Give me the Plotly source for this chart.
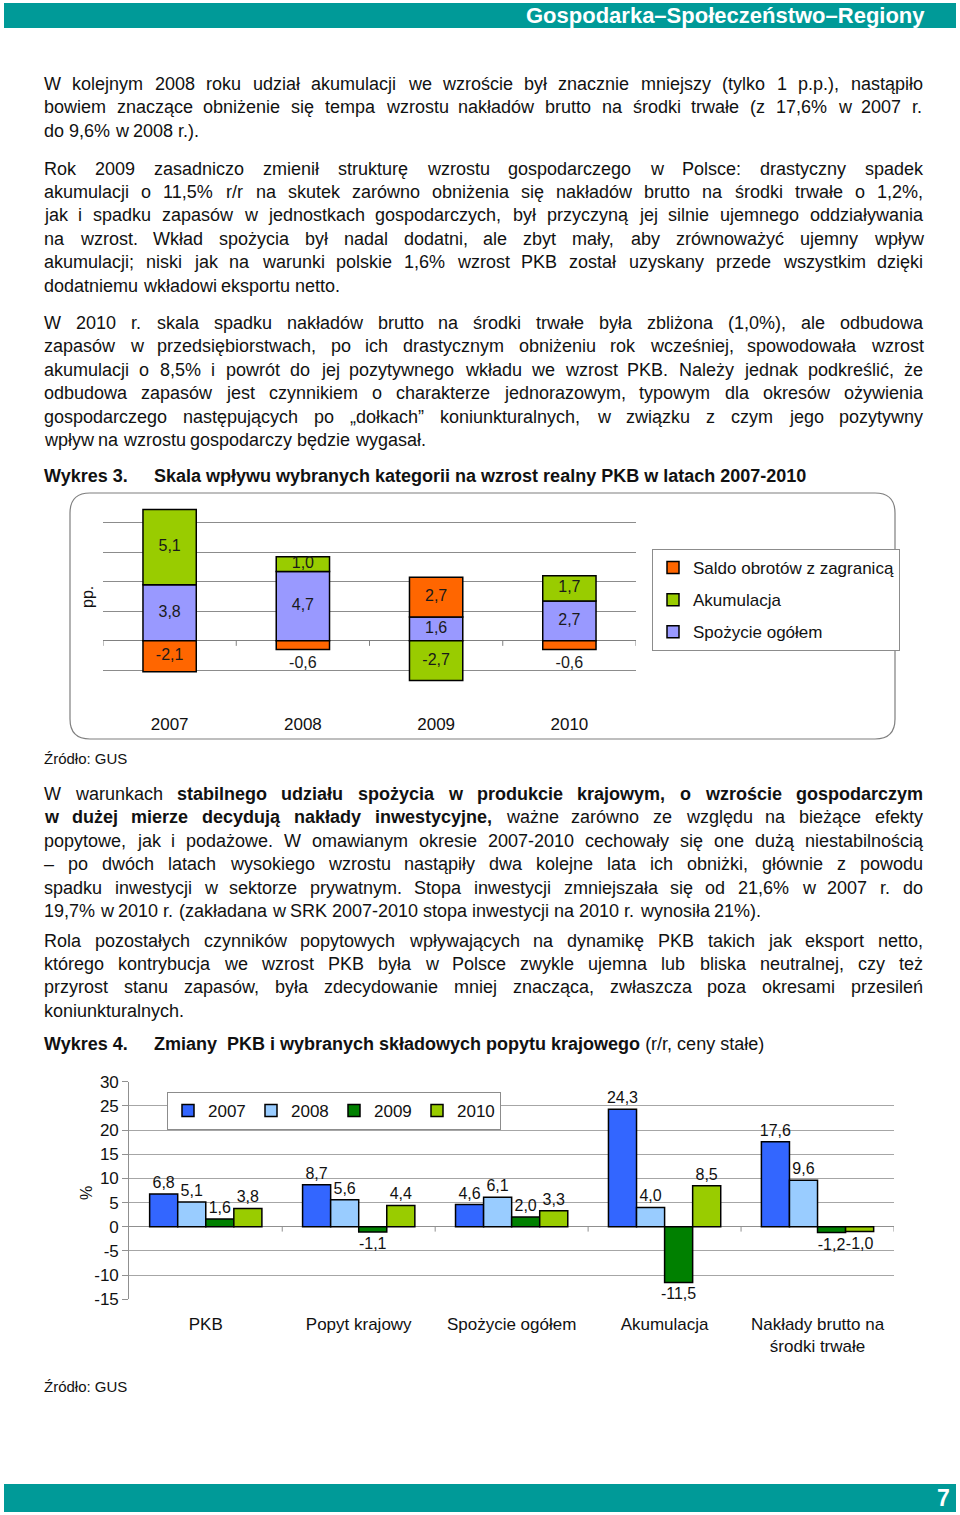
import re
import plotly.graph_objects as go

W, H = 960, 1515


def px(x):
    return x / W


def py(y):
    return 1 - y / H


FONT = "Liberation Sans, Arial, sans-serif"

# ---------------- Chart 3 data ----------------
years3 = ["2007", "2008", "2009", "2010"]
spozycie3 = [3.8, 4.7, 1.6, 2.7]
akumulacja3 = [5.1, 1.0, -2.7, 1.7]
saldo3 = [-2.1, -0.6, 2.7, -0.6]
names3 = ["Spożycie ogółem", "Akumulacja", "Saldo obrotów z zagranicą"]
colors3 = ["#9999FF", "#99CC00", "#FF6600"]
legend_rank3 = [3, 2, 1]

# ---------------- Chart 4 data ----------------
categories4 = ["PKB", "Popyt krajowy", "Spożycie ogółem", "Akumulacja",
               "Nakłady brutto na<br>środki trwałe"]
years4 = ["2007", "2008", "2009", "2010"]
v2007 = [6.8, 8.7, 4.6, 24.3, 17.6]
v2008 = [5.1, 5.6, 6.1, 4.0, 9.6]
v2009 = [1.6, -1.1, 2.0, -11.5, -1.2]
v2010 = [3.8, 4.4, 3.3, 8.5, -1.0]
colors4 = ["#3366FF", "#99CCFF", "#008000", "#99CC00"]
yticks4 = [30, 25, 20, 15, 10, 5, 0, -5, -10, -15]

# ---------------- Text ----------------
para1 = [
    "W kolejnym 2008 roku udział akumulacji we wzroście był znacznie mniejszy (tylko 1 p.p.), nastąpiło",
    "bowiem znaczące obniżenie się tempa wzrostu nakładów brutto na środki trwałe (z 17,6% w 2007 r.",
    "do 9,6% w 2008 r.).",
]
para2 = [
    "Rok 2009 zasadniczo zmienił strukturę wzrostu gospodarczego w Polsce: drastyczny spadek",
    "akumulacji o 11,5% r/r na skutek zarówno obniżenia się nakładów brutto na środki trwałe o 1,2%,",
    "jak i spadku zapasów w jednostkach gospodarczych, był przyczyną jej silnie ujemnego oddziaływania",
    "na wzrost. Wkład spożycia był nadal dodatni, ale zbyt mały, aby zrównoważyć ujemny wpływ",
    "akumulacji; niski jak na warunki polskie 1,6% wzrost PKB został uzyskany przede wszystkim dzięki",
    "dodatniemu wkładowi eksportu netto.",
]
para3 = [
    "W 2010 r. skala spadku nakładów brutto na środki trwałe była zbliżona (1,0%), ale odbudowa",
    "zapasów w przedsiębiorstwach, po ich drastycznym obniżeniu rok wcześniej, spowodowała wzrost",
    "akumulacji o 8,5% i powrót do jej pozytywnego wkładu we wzrost PKB. Należy jednak podkreślić, że",
    "odbudowa zapasów jest czynnikiem o charakterze jednorazowym, typowym dla okresów ożywienia",
    "gospodarczego następujących po „dołkach” koniunkturalnych, w związku z czym jego pozytywny",
    "wpływ na wzrostu gospodarczy będzie wygasał.",
]
para4 = [
    "W warunkach <b>stabilnego udziału spożycia w produkcie krajowym, o wzroście gospodarczym</b>",
    "<b>w dużej mierze decydują nakłady inwestycyjne,</b> ważne zarówno ze względu na bieżące efekty",
    "popytowe, jak i podażowe. W omawianym okresie 2007-2010 cechowały się one dużą niestabilnością",
    "– po dwóch latach wysokiego wzrostu nastąpiły dwa kolejne lata ich obniżki, głównie z powodu",
    "spadku inwestycji w sektorze prywatnym. Stopa inwestycji zmniejszała się od 21,6% w 2007 r. do",
    "19,7% w 2010 r. (zakładana w SRK 2007-2010 stopa inwestycji na 2010 r. wynosiła 21%).",
]
para5 = [
    "Rola pozostałych czynników popytowych wpływających na dynamikę PKB takich jak eksport netto,",
    "którego kontrybucja we wzrost PKB była w Polsce zwykle ujemna lub bliska neutralnej, czy też",
    "przyrost stanu zapasów, była zdecydowanie mniej znacząca, zwłaszcza poza okresami przesileń",
    "koniunkturalnych.",
]

# Arial / Liberation Sans advance widths (1/1000 em), used only to justify lines
_REG = dict(zip("abcdefghijklmnopqrstuvwxyz",
                [556, 556, 500, 556, 556, 278, 556, 556, 222, 222, 500, 222, 833,
                 556, 556, 556, 556, 333, 500, 278, 556, 500, 722, 500, 500, 500]))
_REG.update(dict(zip("ABCDEFGHIJKLMNOPQRSTUVWXYZ",
                     [667, 667, 722, 722, 667, 611, 778, 722, 278, 500, 667, 556, 833,
                      722, 778, 667, 778, 722, 667, 611, 722, 667, 944, 667, 667, 611])))
_BOLD = dict(zip("abcdefghijklmnopqrstuvwxyz",
                 [556, 611, 556, 611, 556, 333, 611, 611, 278, 278, 556, 278, 889,
                  611, 611, 611, 611, 389, 556, 333, 611, 556, 778, 556, 556, 500]))
_BOLD.update(dict(zip("ABCDEFGHIJKLMNOPQRSTUVWXYZ",
                      [722, 722, 722, 722, 667, 611, 778, 722, 278, 556, 722, 611, 833,
                       722, 778, 667, 778, 722, 667, 611, 722, 667, 944, 667, 667, 611])))
for tbl, colon in ((_REG, 278), (_BOLD, 333)):
    for ch in "0123456789":
        tbl[ch] = 556
    tbl.update({" ": 278, ",": 278, ".": 278, "-": 333, "(": 333, ")": 333, "%": 889,
                "/": 278, ":": colon, ";": colon, "–": 556, "„": 333, "”": 333})
_ACC = {"ą": "a", "ć": "c", "ę": "e", "ł": "l", "ń": "n", "ó": "o", "ś": "s", "ź": "z",
        "ż": "z", "Ź": "Z", "Ż": "Z", "Ś": "S", "Ł": "L"}


def word_width(word, bold, size):
    tbl = _BOLD if bold else _REG
    return sum(tbl.get(_ACC.get(c, c), 556) for c in word) * size / 1000.0


def parse_words(line):
    words = []
    bold = False
    for part in re.split(r"(</?b>)", line):
        if part == "<b>":
            bold = True
        elif part == "</b>":
            bold = False
        else:
            for w in part.split():
                words.append((w, bold))
    return words


def fmt(v):
    return f"{v:.1f}".replace(".", ",")


fig = go.Figure()

# ---------------- Chart 3: stacked contributions ----------------
pos = [0.0] * len(years3)
neg = [0.0] * len(years3)
label_x, label_y, label_t = [], [], []
for name, vals, col, rank in zip(names3, [spozycie3, akumulacja3, saldo3], colors3, legend_rank3):
    bases = []
    for i, v in enumerate(vals):
        if v >= 0:
            bases.append(pos[i])
            pos[i] += v
        else:
            bases.append(neg[i])
            neg[i] += v
    fig.add_trace(go.Bar(
        x=years3, y=vals, base=bases, name=name,
        marker=dict(color=col, line=dict(color="#000000", width=1.5)),
        width=0.4, offset=-0.2,
        xaxis="x", yaxis="y", legend="legend", legendgroup=name, legendrank=rank,
        hoverinfo="skip",
    ))
    for i, v in enumerate(vals):
        b = bases[i]
        if abs(v) >= 1:
            yy = b + v / 2
        else:
            yy = b + v + (-0.95 if v < 0 else 0.95)
        label_x.append(years3[i])
        label_y.append(yy)
        label_t.append(fmt(v))

fig.add_trace(go.Scatter(
    x=label_x, y=label_y, text=label_t, mode="text",
    textfont=dict(family=FONT, size=16, color="#1a1a1a"),
    xaxis="x", yaxis="y", showlegend=False, hoverinfo="skip", cliponaxis=False,
))

# ---------------- Chart 4: grouped bars ----------------
gw = 0.734
bw = gw / 4
for k, (yr, vals, col) in enumerate(zip(years4, [v2007, v2008, v2009, v2010], colors4)):
    fig.add_trace(go.Bar(
        x=categories4, y=vals, name=yr,
        marker=dict(color=col, line=dict(color="#000000", width=1.5)),
        width=bw, offset=-gw / 2 + k * bw,
        text=[fmt(v) for v in vals], textposition="outside", constraintext="none",
        textfont=dict(family=FONT, size=16, color="#111111"),
        cliponaxis=False,
        xaxis="x2", yaxis="y2", legend="legend2",
        hoverinfo="skip",
    ))

# ---------------- Shapes ----------------
shapes = []
shapes.append(dict(type="rect", xref="paper", yref="paper",
                   x0=px(4), x1=px(956), y0=py(3), y1=py(28),
                   fillcolor="#009A98", line=dict(width=0), layer="below"))
shapes.append(dict(type="rect", xref="paper", yref="paper",
                   x0=px(4), x1=px(956), y0=py(1484), y1=py(1512),
                   fillcolor="#009A98", line=dict(width=0), layer="below"))
x0, y0, x1, y1, r = 70, 493, 895, 739, 20
path = (f"M {px(x0 + r)} {py(y0)} L {px(x1 - r)} {py(y0)} "
        f"Q {px(x1)} {py(y0)} {px(x1)} {py(y0 + r)} "
        f"L {px(x1)} {py(y1 - r)} Q {px(x1)} {py(y1)} {px(x1 - r)} {py(y1)} "
        f"L {px(x0 + r)} {py(y1)} Q {px(x0)} {py(y1)} {px(x0)} {py(y1 - r)} "
        f"L {px(x0)} {py(y0 + r)} Q {px(x0)} {py(y0)} {px(x0 + r)} {py(y0)} Z")
shapes.append(dict(type="path", xref="paper", yref="paper", path=path,
                   line=dict(color="#7f7f7f", width=1.2), layer="below"))
for j in range(len(years3) + 1):
    shapes.append(dict(type="line", xref="x", yref="y",
                       x0=j - 0.5, x1=j - 0.5, y0=0, y1=-0.35,
                       line=dict(color="#808080", width=1)))
for j in range(1, len(categories4) + 1):
    shapes.append(dict(type="line", xref="x2", yref="y2",
                       x0=j - 0.5, x1=j - 0.5, y0=0, y1=-1.0,
                       line=dict(color="#909090", width=1)))

# ---------------- Annotations ----------------
ann = []
BODY = 18
LEFT, RIGHT = 43, 922


def text_line(x, y, s, size=BODY, color="#111111"):
    ann.append(dict(xref="paper", yref="paper", x=px(x), y=py(y),
                    xanchor="left", yanchor="middle", showarrow=False,
                    text=s, font=dict(family=FONT, size=size, color=color),
                    borderpad=0))


def justified_line(y, line, justify, size=BODY):
    words = parse_words(line)
    widths = [word_width(w, b, size) for w, b in words]
    if justify and len(words) > 1:
        gap = (RIGHT - LEFT - sum(widths)) / (len(words) - 1)
    else:
        gap = word_width(" ", False, size)
    x = LEFT
    for (w, b), wd in zip(words, widths):
        text_line(x, y, f"<b>{w}</b>" if b else w, size=size)
        x += wd + gap


for lines, ys in [(para1, [84, 107, 131]),
                  (para2, [169, 192, 215, 239, 262, 286]),
                  (para3, [323, 346, 370, 393, 417, 440]),
                  (para4, [794, 817, 841, 864, 888, 911]),
                  (para5, [941, 964, 987, 1011])]:
    for idx, (s, y) in enumerate(zip(lines, ys)):
        justified_line(y, s, justify=(idx < len(lines) - 1))

text_line(43, 476, "<b>Wykres 3.</b>")
text_line(153, 476, "<b>Skala wpływu wybranych kategorii na wzrost realny PKB w latach 2007-2010</b>")
text_line(43, 758, "Źródło: GUS", size=15)
text_line(43, 1044, "<b>Wykres 4.</b>")
text_line(153, 1044, "<b>Zmiany  PKB i wybranych składowych popytu krajowego</b> (r/r, ceny stałe)")
text_line(43, 1386, "Źródło: GUS", size=15)

ann.append(dict(xref="paper", yref="paper", x=px(926), y=py(16), xanchor="right",
                yanchor="middle", showarrow=False, text="<b>Gospodarka–Społeczeństwo–Regiony</b>",
                font=dict(family=FONT, size=22, color="#ffffff"), borderpad=0))
ann.append(dict(xref="paper", yref="paper", x=px(951), y=py(1498), xanchor="right",
                yanchor="middle", showarrow=False, text="<b>7</b>",
                font=dict(family=FONT, size=23, color="#ffffff"), borderpad=0))

ann.append(dict(xref="paper", yref="paper", x=px(87), y=py(597), xanchor="center",
                yanchor="middle", showarrow=False, text="pp.", textangle=-90,
                font=dict(family=FONT, size=16, color="#111111")))
ann.append(dict(xref="paper", yref="paper", x=px(86), y=py(1193), xanchor="center",
                yanchor="middle", showarrow=False, text="%", textangle=-90,
                font=dict(family=FONT, size=16, color="#111111")))

# ---------------- Layout ----------------
fig.update_layout(
    width=W, height=H,
    margin=dict(l=0, r=0, t=0, b=0, pad=0, autoexpand=False),
    paper_bgcolor="#ffffff", plot_bgcolor="rgba(0,0,0,0)",
    barmode="overlay",
    font=dict(family=FONT, size=16, color="#111111"),
    shapes=shapes, annotations=ann,
    xaxis=dict(domain=[px(103), px(636)], type="category", range=[-0.5, 3.5],
               showgrid=False, showline=False, ticks="", zeroline=False,
               tickfont=dict(family=FONT, size=17, color="#111111"),
               ticklabelstandoff=12, fixedrange=True, automargin=False),
    yaxis=dict(domain=[py(699.7), py(507.95)], range=[-4, 9],
               tickvals=[-2, 0, 2, 4, 6, 8], showticklabels=False,
               showgrid=True, gridcolor="#8c8c8c", gridwidth=1,
               zeroline=True, zerolinecolor="#808080", zerolinewidth=1,
               showline=False, ticks="", fixedrange=True, automargin=False),
    xaxis2=dict(domain=[px(129.3), px(894)], type="category", range=[-0.5, 4.5],
                anchor="y2", showgrid=False, showline=False, ticks="", zeroline=False,
                tickfont=dict(family=FONT, size=17, color="#111111"),
                ticklabelstandoff=13, fixedrange=True, automargin=False),
    yaxis2=dict(domain=[py(1299.3), py(1081.7)], range=[-15, 30], anchor="x2",
                tickvals=yticks4, ticktext=[str(v) for v in yticks4],
                showgrid=True, gridcolor="#a6a6a6", gridwidth=1.2,
                zeroline=True, zerolinecolor="#909090", zerolinewidth=1.2,
                showline=True, linecolor="#909090", linewidth=1.2,
                ticks="outside", ticklen=6, tickcolor="#909090",
                tickfont=dict(family=FONT, size=17, color="#111111"),
                fixedrange=True, automargin=False),
    legend=dict(x=px(652), y=py(549), xanchor="left", yanchor="top",
                bgcolor="#ffffff", bordercolor="#8c8c8c", borderwidth=1,
                font=dict(family=FONT, size=17, color="#111111"),
                traceorder="grouped", tracegroupgap=7, itemwidth=30),
    legend2=dict(x=px(167), y=py(1092), xanchor="left", yanchor="top",
                 orientation="h", bgcolor="#ffffff", bordercolor="#8c8c8c", borderwidth=1,
                 font=dict(family=FONT, size=17, color="#111111"),
                 itemwidth=30, entrywidth=38, entrywidthmode="pixels"),
)

fig.write_html("out.html",
               config={"displayModeBar": False},
               post_script="document.body.style.margin='0px';"
                           "document.body.style.overflow='hidden';")
